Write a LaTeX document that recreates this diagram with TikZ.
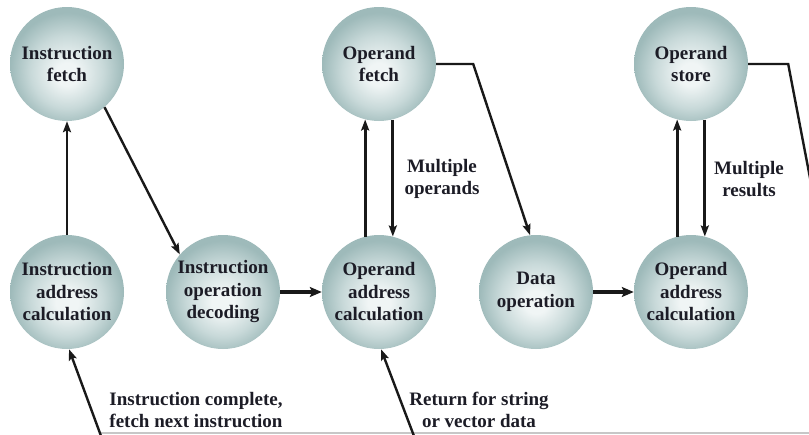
\documentclass[tikz,border=0pt]{standalone}
\usepackage{fontspec}
\setmainfont{Liberation Serif}
\usetikzlibrary{arrows.meta}
\definecolor{ballin}{RGB}{240,245,245}
\definecolor{ballmid}{RGB}{200,217,217}
\definecolor{ballout}{RGB}{158,186,186}
\definecolor{txt}{RGB}{28,28,38}
\definecolor{conncol}{RGB}{25,25,25}
\pgfdeclareradialshading{ballshade}{\pgfpoint{0bp}{-5bp}}{color(0bp)=(ballin); color(5bp)=(ballin); color(16bp)=(ballmid); color(25bp)=(ballout); color(50bp)=(ballout)}
\begin{document}
\begin{tikzpicture}[x=1pt,y=-1pt,
  ball/.style={circle, minimum size=114pt, inner sep=0pt, shading=ballshade, align=center, text=txt, font=\bfseries\fontsize{19}{22.5}\selectfont},
  lbl/.style={align=center, inner sep=0pt, text=txt, font=\bfseries\fontsize{19}{22.5}\selectfont},
  tip/.style={-{Stealth[length=11pt,width=8pt,inset=2pt]}},
  diag/.style={tip, draw=conncol, line width=2.4pt},
  vert/.style={tip, draw=conncol, line width=2.9pt},
  horiz/.style={-{Stealth[length=12pt,width=10pt,inset=2.5pt]}, draw=conncol, line width=3.8pt},
  plain/.style={draw=conncol, line width=2.4pt, line join=miter}
]
\useasboundingbox (0,0) rectangle (809,434);
\clip (0,0) rectangle (809,434);
\fill[white] (0,0) rectangle (809,434);
\draw[black!22, line width=1.5pt] (101,433) -- (809,433);

\node[ball] (if) at (67,64) {Instruction\\fetch};
\node[ball] (of) at (379,64) {Operand\\fetch};
\node[ball] (os) at (691,64) {Operand\\store};
\node[ball] (iac) at (67,292) {Instruction\\address\\calculation};
\node[ball] (iod) at (223,292) {Instruction\\operation\\decoding};
\node[ball] (oac1) at (379,292) {Operand\\address\\calculation};
\node[ball] (do) at (536,292) {Data\\operation};
\node[ball] (oac2) at (691,292) {Operand\\address\\calculation};

\node[lbl] (mo) at (442,179) {Multiple\\operands};
\node[lbl] (mr) at (749,179) {Multiple\\results};
\node[lbl] (ic) at (196,410) {Instruction complete,\\fetch next instruction};
\node[lbl] (rs) at (479,410) {Return for string\\or vector data};

\coordinate (b1) at (102.5,440);
\coordinate (b2) at (415.5,440);
\coordinate (osout) at (815,204);

\draw[vert] (iac.north) -- (if.south);
\draw[diag] (if.-49) -- (iod.139);
\draw[horiz] (iod.east) -- (oac1.west);
\draw[vert] (oac1.104) -- (of.256);
\draw[vert] (of.284) -- (oac1.76);
\draw[diag] (of.east) -- ++(37,0) -- (do.96);
\draw[horiz] (do.east) -- (oac2.west);
\draw[vert] (oac2.104) -- (os.256);
\draw[vert] (os.284) -- (oac2.76);
\draw[plain] (os.east) -- ++(40,0) -- (osout);
\draw[diag] (b1) -- (iac.-88);
\draw[diag] (b2) -- (oac1.-88);
\end{tikzpicture}
\end{document}
